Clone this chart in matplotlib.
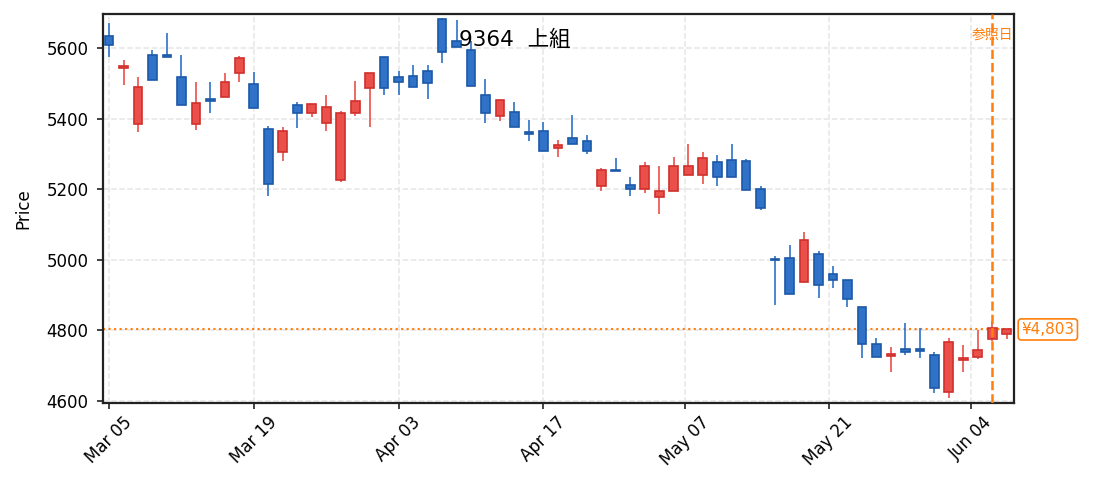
import numpy as np
import matplotlib.pyplot as plt
import matplotlib.transforms as mtransforms

plt.rcParams["font.family"] = ["DejaVu Sans", "Noto Sans CJK JP"]

# Daily OHLC, 9364 上組 (Mar 05 - Jun 05)
opens = [5635, 5543, 5385, 5581, 5579, 5517, 5385, 5456, 5461, 5529,
         5499, 5372, 5306, 5440, 5416, 5388, 5226, 5415, 5487, 5574,
         5517, 5520, 5536, 5681, 5621, 5595, 5468, 5408, 5420, 5362,
         5366, 5318, 5346, 5337, 5209, 5254, 5213, 5200, 5178, 5195,
         5239, 5239, 5276, 5284, 5279, 5201, 5002, 5006, 4936, 5017,
         4961, 4944, 4867, 4762, 4727, 4748, 4748, 4731, 4625, 4716,
         4724, 4776, 4790]
highs = [5671, 5566, 5518, 5594, 5642, 5580, 5504, 5504, 5529, 5577,
         5532, 5378, 5376, 5446, 5442, 5467, 5421, 5507, 5530, 5576,
         5535, 5552, 5552, 5684, 5679, 5619, 5512, 5454, 5446, 5396,
         5390, 5340, 5410, 5354, 5260, 5288, 5234, 5277, 5266, 5291,
         5328, 5305, 5297, 5328, 5285, 5208, 5010, 5042, 5079, 5025,
         4982, 4944, 4867, 4778, 4752, 4821, 4806, 4739, 4780, 4758,
         4801, 4827, 4803]
lows = [5575, 5496, 5363, 5509, 5574, 5439, 5369, 5417, 5461, 5505,
        5430, 5182, 5281, 5374, 5405, 5366, 5220, 5408, 5377, 5466,
        5468, 5490, 5456, 5558, 5604, 5493, 5388, 5392, 5377, 5337,
        5308, 5292, 5328, 5300, 5196, 5251, 5182, 5190, 5131, 5195,
        5239, 5216, 5210, 5234, 5198, 5142, 4872, 4902, 4936, 4893,
        4921, 4867, 4723, 4724, 4683, 4731, 4723, 4622, 4608, 4683,
        4718, 4770, 4775]
closes = [5608, 5550, 5490, 5509, 5575, 5439, 5445, 5450, 5505, 5571,
          5430, 5215, 5364, 5416, 5442, 5434, 5415, 5451, 5530, 5487,
          5504, 5490, 5501, 5589, 5604, 5493, 5416, 5454, 5377, 5357,
          5308, 5325, 5328, 5308, 5254, 5251, 5201, 5267, 5196, 5267,
          5267, 5289, 5234, 5234, 5198, 5146, 4999, 4902, 5055, 4930,
          4943, 4889, 4762, 4724, 4734, 4740, 4741, 4636, 4766, 4723,
          4745, 4806, 4803]

tick_labels = ["Mar 05", "Mar 19", "Apr 03", "Apr 17", "May 07", "May 21", "Jun 04"]
tick_pos = [0, 10, 20, 30, 39.8, 49.7, 59.5]
ref_index = 61  # Jun 04
last_price = closes[-1]

title = "9364  上組"

UP_FILL, UP_EDGE = "#ea4f4a", "#d0302c"
DN_FILL, DN_EDGE = "#2f72c8", "#1b58a8"
ORANGE = "#ff7f0e"

fig = plt.figure(figsize=(10.93, 4.91), dpi=100)
ax = fig.add_axes([0.0942, 0.1802, 0.8335, 0.7903])

o = np.array(opens)
h = np.array(highs)
l = np.array(lows)
c = np.array(closes)
x = np.arange(len(o))
up = c >= o

# wicks
ax.vlines(x[up], l[up], h[up], color=UP_FILL, linewidth=1.2, zorder=2)
ax.vlines(x[~up], l[~up], h[~up], color=DN_FILL, linewidth=1.2, zorder=2)

# bodies
bottom = np.minimum(o, c)
height = np.maximum(np.abs(c - o), 1.5)
ax.bar(x[up], height[up], bottom=bottom[up], width=0.6,
       color=UP_FILL, edgecolor=UP_EDGE, linewidth=1.2, zorder=3)
ax.bar(x[~up], height[~up], bottom=bottom[~up], width=0.6,
       color=DN_FILL, edgecolor=DN_EDGE, linewidth=1.2, zorder=3)

# last price and reference day
ax.axhline(last_price, color=ORANGE, linestyle=":", linewidth=1.5, zorder=1)
ax.axvline(ref_index, color=ORANGE, linestyle="--", linewidth=1.8, zorder=4)
ax.text(ref_index, 0.947, "参照日", transform=ax.get_xaxis_transform(),
        ha="center", va="center", color=ORANGE, fontsize=10, zorder=5)

trans = mtransforms.blended_transform_factory(ax.transAxes, ax.transData)
ax.text(1.008, last_price, f"¥{last_price:,}", transform=trans,
        ha="left", va="center", color=ORANGE, fontsize=11,
        bbox=dict(boxstyle="round,pad=0.2", facecolor="white",
                  edgecolor=ORANGE, linewidth=1.2),
        clip_on=False)

ax.set_xlim(-0.42, 62.5)
ax.set_ylim(4596, 5695)
ax.set_yticks(range(4600, 5601, 200))
ax.set_xticks(tick_pos)
ax.set_xticklabels(tick_labels, rotation=45)
ax.set_ylabel("Price", fontsize=12, labelpad=10)
ax.tick_params(labelsize=12, length=4, width=1.2, color="#222222")
ax.tick_params(axis="y", pad=6.5)
ax.grid(True, linestyle="--", color="#e6e6e6", linewidth=1.1, zorder=0)
ax.set_axisbelow(True)
for s in ax.spines.values():
    s.set_linewidth(1.6)
    s.set_color("#222222")

fig.text(515 / 1093, 1 - 40 / 491, title, ha="center", va="center", fontsize=15.5)

fig.savefig("out.png", dpi=100)
